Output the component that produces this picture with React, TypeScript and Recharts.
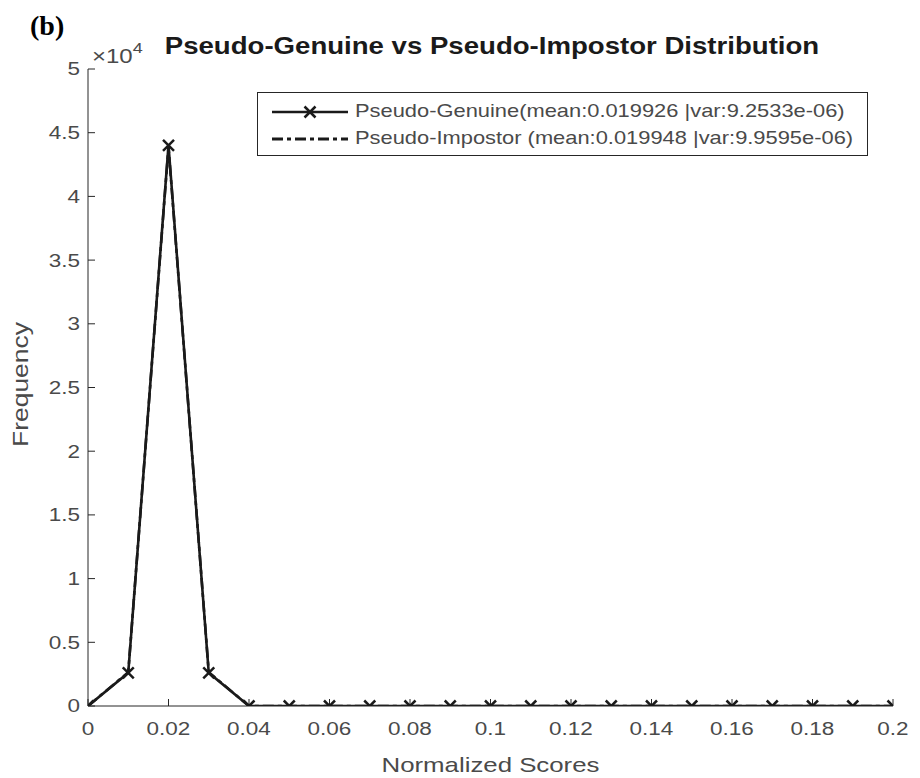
import { LineChart, Line, XAxis, YAxis, Legend } from "recharts";

const scores = [
  0, 0.01, 0.02, 0.03, 0.04, 0.05, 0.06, 0.07, 0.08, 0.09, 0.1, 0.11, 0.12, 0.13,
  0.14, 0.15, 0.16, 0.17, 0.18, 0.19, 0.2,
];
const genuine = [0, 2600, 44000, 2600, 0, 0, 0, 0, 0, 0, 0, 0, 0, 0, 0, 0, 0, 0, 0, 0, 0];
const impostor = [0, 2650, 43900, 2650, 0, 0, 0, 0, 0, 0, 0, 0, 0, 0, 0, 0, 0, 0, 0, 0, 0];

const xTicks = [0, 0.02, 0.04, 0.06, 0.08, 0.1, 0.12, 0.14, 0.16, 0.18, 0.2];
const yTicks = [0, 5000, 10000, 15000, 20000, 25000, 30000, 35000, 40000, 45000, 50000];

const genuineName = "Pseudo-Genuine(mean:0.019926 |var:9.2533e-06)";
const impostorName = "Pseudo-Impostor (mean:0.019948 |var:9.9595e-06)";

const data = scores.map((x, i) => ({ x, genuine: genuine[i], impostor: impostor[i] }));

const FONT = "'Liberation Sans', Arial, Helvetica, sans-serif";
const INK = "#262626";
const TEXT = "#4a4a4a";
// the figure's glyphs are wider than Liberation Sans, stretch along the text
const STRETCH = 1.25;

const stretchAt = (x: number, y: number, s: number) =>
  `translate(${x},${y}) scale(${s},1) translate(${-x},${-y})`;

const XTick = (props: any) => {
  const { x, y, payload } = props;
  return (
    <text
      x={x}
      y={y}
      dy="0.71em"
      textAnchor="middle"
      transform={stretchAt(x, y, STRETCH)}
      fontSize={18}
      fontFamily={FONT}
      fill={TEXT}
    >
      {String(payload.value)}
    </text>
  );
};

const YTick = (props: any) => {
  const { x, y, payload } = props;
  return (
    <text
      x={x}
      y={y}
      dy="0.36em"
      textAnchor="end"
      transform={stretchAt(x, y, STRETCH)}
      fontSize={18}
      fontFamily={FONT}
      fill={TEXT}
    >
      {String(payload.value / 10000)}
    </text>
  );
};

const XLabel = (props: any) => {
  const vb = props.viewBox;
  const cx = vb.x + vb.width / 2;
  const y = vb.y + 66;
  return (
    <text
      x={cx}
      y={y}
      textAnchor="middle"
      transform={stretchAt(cx, y, 1.23)}
      fontSize={21}
      fontFamily={FONT}
      fill={TEXT}
    >
      Normalized Scores
    </text>
  );
};

const YLabel = (props: any) => {
  const vb = props.viewBox;
  const cy = vb.y + vb.height / 2 - 3;
  return (
    <text
      x={0}
      y={0}
      textAnchor="middle"
      transform={`translate(28,${cy}) rotate(-90) scale(1.23,1)`}
      fontSize={21.5}
      fontFamily={FONT}
      fill={TEXT}
    >
      Frequency
    </text>
  );
};

const XMark = (props: any) => {
  const { cx, cy, index } = props;
  if (cx == null || cy == null) return <g key={index} />;
  const s = 5.5;
  return (
    <g key={index} stroke="#1a1a1a" strokeWidth={2.5}>
      <line x1={cx - s} y1={cy - s} x2={cx + s} y2={cy + s} />
      <line x1={cx - s} y1={cy + s} x2={cx + s} y2={cy - s} />
    </g>
  );
};

const legendText = {
  display: "inline-block",
  transform: "scaleX(1.23)",
  transformOrigin: "left center",
};

const LegendBox = () => (
  <div
    style={{
      border: `1px solid ${INK}`,
      background: "#fff",
      width: 611,
      height: 64,
      boxSizing: "border-box",
      padding: "5px 0 0 12px",
      fontFamily: FONT,
      fontSize: 17.8,
      color: TEXT,
      lineHeight: "27px",
    }}
  >
    <div style={{ display: "flex", alignItems: "center", whiteSpace: "nowrap" }}>
      <svg width={80} height={14} style={{ marginRight: 5 }}>
        <line x1={2} y1={7} x2={78} y2={7} stroke="#1a1a1a" strokeWidth={2.4} />
        <line x1={34.5} y1={1.5} x2={45.5} y2={12.5} stroke="#1a1a1a" strokeWidth={2.5} />
        <line x1={34.5} y1={12.5} x2={45.5} y2={1.5} stroke="#1a1a1a" strokeWidth={2.5} />
      </svg>
      <span style={legendText}>{genuineName}</span>
    </div>
    <div style={{ display: "flex", alignItems: "center", whiteSpace: "nowrap" }}>
      <svg width={80} height={14} style={{ marginRight: 5 }}>
        <line x1={2} y1={7} x2={78} y2={7} stroke="#1a1a1a" strokeWidth={2.8} strokeDasharray="11 4 4 4" />
      </svg>
      <span style={legendText}>{impostorName}</span>
    </div>
  </div>
);

export default function App() {
  return (
    <div style={{ position: "absolute", left: 0, top: 0, width: 920, height: 778, background: "#fff" }}>
      <LineChart
        width={920}
        height={778}
        data={data}
        margin={{ top: 69, right: 27, bottom: 32, left: 8 }}
      >
        <XAxis
          dataKey="x"
          type="number"
          domain={[0, 0.2]}
          ticks={xTicks}
          height={40}
          tickSize={-7}
          tickMargin={23}
          tick={XTick}
          stroke={INK}
          allowDataOverflow
          label={<XLabel />}
        />
        <XAxis
          xAxisId="top"
          orientation="top"
          dataKey="x"
          type="number"
          domain={[0, 0.2]}
          ticks={xTicks}
          height={0}
          tickSize={-7}
          tick={false}
          stroke={INK}
          allowDataOverflow
        />
        <YAxis
          type="number"
          domain={[0, 50000]}
          ticks={yTicks}
          width={80}
          tickSize={-7}
          tickMargin={15}
          tick={YTick}
          stroke={INK}
          allowDataOverflow
          label={<YLabel />}
        />
        <YAxis
          yAxisId="right"
          orientation="right"
          type="number"
          domain={[0, 50000]}
          ticks={yTicks}
          width={0}
          tickSize={-7}
          tick={false}
          stroke={INK}
          allowDataOverflow
        />
        <Legend
          layout="vertical"
          align="center"
          verticalAlign="middle"
          content={() => <LegendBox />}
          wrapperStyle={{ position: "absolute", left: 257, top: 92, width: "auto" }}
        />
        <Line
          dataKey="genuine"
          type="linear"
          stroke="#1a1a1a"
          strokeWidth={2.6}
          dot={XMark}
          isAnimationActive={false}
        />
        <Line
          dataKey="impostor"
          type="linear"
          stroke="#1a1a1a"
          strokeWidth={2.6}
          strokeDasharray="11 4 4 4"
          dot={false}
          isAnimationActive={false}
        />
      </LineChart>
      <svg
        width={920}
        height={778}
        style={{ position: "absolute", left: 0, top: 0, pointerEvents: "none" }}
      >
        <text
          x={30}
          y={35}
          fontFamily="'Liberation Serif', 'Times New Roman', serif"
          fontWeight="bold"
          fontSize={28}
          fill="#000"
        >
          (b)
        </text>
        <text
          x={492}
          y={54}
          textAnchor="middle"
          transform={stretchAt(492, 54, 1.2)}
          fontFamily={FONT}
          fontWeight="bold"
          fontSize={23}
          fill="#1a1a1a"
        >
          Pseudo-Genuine vs Pseudo-Impostor Distribution
        </text>
        <text
          x={92}
          y={63}
          transform={stretchAt(92, 63, 1.2)}
          fontFamily={FONT}
          fontSize={20}
          fill={TEXT}
        >
          ×10
          <tspan dy={-10} fontSize={15}>
            4
          </tspan>
        </text>
      </svg>
    </div>
  );
}
